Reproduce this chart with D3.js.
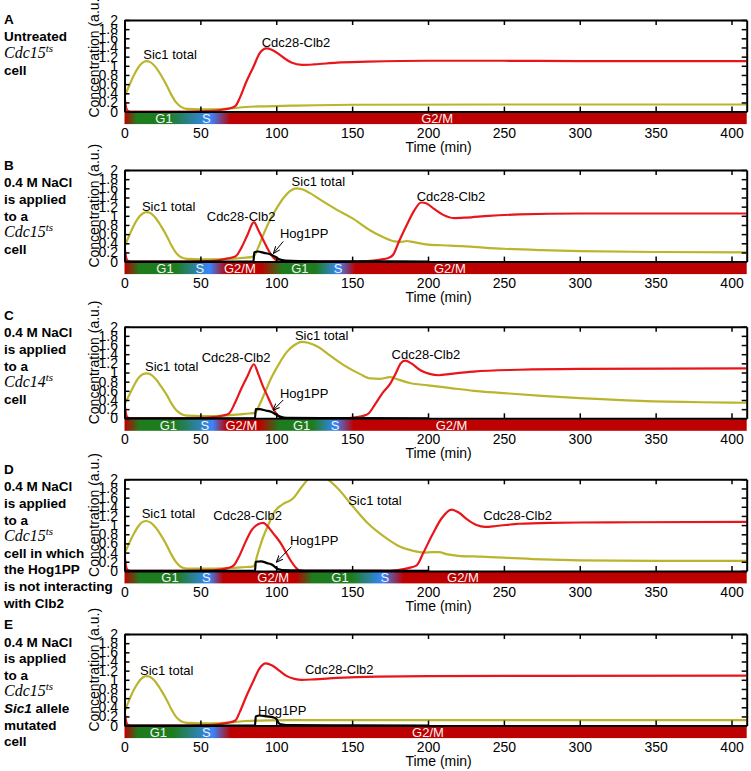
<!DOCTYPE html>
<html>
<head>
<meta charset="utf-8">
<script src="https://cdnjs.cloudflare.com/ajax/libs/d3/7.8.5/d3.min.js"></script>
<style>
  body { margin: 0; background: #fff; }
  text { font-family: "Liberation Sans", Arial, Helvetica, sans-serif; }
</style>
</head>
<body>
<div id="chart"></div>
<script>
// ticks
const timeTicks = [0, 50, 100, 150, 200, 250, 300, 350, 400];
const concTicks = [0, 0.2, 0.4, 0.6, 0.8, 1, 1.2, 1.4, 1.6, 1.8, 2];
const concLabels = ['0', '0.2', '0.4', '0.6', '0.8', '1', '1.2', '1.4', '1.6', '1.8', '2'];

const phaseColors = { G1: '#1e7c1e', S: '#3686ff', M: '#bd0000' };

// ---- A : untreated cdc15ts
const sic1A = [[0,0.33],[3,0.56],[6,0.78],[9,0.96],[12,1.07],[14.6,1.1],[17,1.08],[21,0.95],[24,0.8],[28,0.56],[31,0.36],[34,0.2],[37,0.11],[41,0.06],[50,0.05],[60,0.05],[70,0.07],[80,0.1],[90,0.115],[110,0.13],[150,0.15],[250,0.155],[410,0.155]];
const clb2A = [[0,0.33],[1,0.1],[2,0.02],[4,0],[40,0],[55,0.01],[62,0.03],[68,0.06],[73,0.12],[76,0.3],[80,0.63],[85,0.98],[89,1.27],[93.5,1.38],[97,1.35],[102,1.25],[106,1.15],[110,1.07],[117,1.02],[125,1.03],[140,1.07],[160,1.09],[200,1.11],[250,1.11],[300,1.1],[410,1.1]];
const phasesA = [[0,'M'],[8,'G1'],[28,'G1'],[57,'S'],[70,'M']];
const phaseLabelsA = [[26,'G1'],[54,'S'],[206,'G2/M']];
const notesA = [[12.4,1.15,'Sic1 total'],[90.4,1.41,'Cdc28-Clb2']];

// ---- B : NaCl, cdc15ts
const sic1B = [[0,0.33],[3,0.56],[6,0.78],[9,0.95],[12,1.05],[14.6,1.08],[17,1.06],[21,0.93],[24,0.78],[28,0.55],[31,0.35],[34,0.19],[37,0.1],[41,0.06],[50,0.05],[60,0.05],[70,0.06],[78,0.08],[85,0.11],[88,0.3],[91,0.55],[95,0.85],[100,1.15],[105,1.4],[109,1.54],[113,1.6],[117,1.58],[122,1.5],[130,1.33],[140,1.13],[150,0.95],[162,0.68],[170,0.54],[178,0.44],[182,0.43],[186,0.45],[190,0.43],[200,0.37],[215,0.35],[230,0.32],[250,0.28],[275,0.25],[300,0.23],[350,0.21],[410,0.2]];
const clb2B = [[0,0.33],[1,0.1],[2,0.02],[4,0],[40,0],[55,0.01],[62,0.03],[68,0.07],[73,0.11],[77,0.3],[81,0.58],[85.3,0.86],[88,0.7],[91,0.5],[94,0.3],[97,0.13],[100,0.03],[103,0],[150,0],[160,0.01],[168,0.04],[174,0.08],[177,0.15],[181,0.45],[186,0.8],[191,1.12],[195.5,1.29],[199,1.27],[204,1.15],[210,1.02],[217,0.95],[225,0.96],[240,1.0],[260,1.03],[300,1.05],[410,1.05]];
const hogB = [[0,0],[85,0],[85.5,0.2],[88,0.22],[92,0.19],[96,0.16],[99,0.11],[102,0.05],[106,0.02],[115,0.01],[160,0.005],[200,0]];
const phasesB = [[0,'M'],[10,'G1'],[34,'G1'],[56,'S'],[67,'M'],[90,'M'],[104,'G1'],[126,'G1'],[141,'S'],[152,'M']];
const phaseLabelsB = [[26.7,'G1'],[49.7,'S'],[76,'G2/M'],[115.6,'G1'],[140.8,'S'],[214.4,'G2/M']];
const notesB = [[11.5,1.11,'Sic1 total'],[54.2,0.89,'Cdc28-Clb2'],[110.1,1.65,'Sic1 total'],[102.4,0.52,'Hog1PP'],[192.5,1.33,'Cdc28-Clb2']];
const arrowB = [[104.6,0.44],[98.4,0.19]];

// ---- C : NaCl, cdc14ts
const sic1C = [[0,0.31],[3,0.5],[6,0.7],[9,0.87],[12,0.96],[14.6,0.98],[17,0.96],[21,0.84],[24,0.7],[28,0.5],[31,0.32],[34,0.18],[37,0.1],[41,0.06],[50,0.05],[60,0.05],[70,0.07],[80,0.1],[86,0.12],[89,0.3],[93,0.6],[97,0.9],[102,1.2],[107,1.45],[112,1.6],[116.7,1.67],[121,1.65],[128,1.55],[135,1.38],[145,1.15],[155,0.97],[162,0.87],[168,0.86],[175,0.9],[180,0.85],[188,0.77],[200,0.72],[215,0.66],[230,0.6],[250,0.55],[275,0.49],[300,0.44],[340,0.38],[380,0.35],[410,0.34]];
const clb2C = [[0,0.33],[1,0.1],[2,0.02],[4,0],[40,0],[52,0.01],[60,0.03],[65,0.06],[69,0.11],[73,0.35],[77,0.65],[81,0.92],[85.3,1.18],[88,0.98],[91,0.72],[94,0.5],[97,0.28],[100,0.1],[103,0.02],[106,0],[145,0],[152,0.02],[157,0.05],[161,0.11],[165,0.3],[170,0.55],[175,0.75],[179,1.0],[182,1.2],[185,1.26],[189,1.2],[195,1.05],[201,0.97],[207,0.94],[215,0.97],[230,1.02],[260,1.06],[300,1.08],[410,1.09]];
const hogC = [[0,0],[86,0],[86.5,0.2],[89,0.2],[93,0.17],[97,0.14],[100,0.08],[103,0.03],[107,0.01],[150,0.005],[200,0]];
const phasesC = [[0,'M'],[10,'G1'],[33,'G1'],[58,'S'],[67,'M'],[89,'M'],[102,'G1'],[124,'G1'],[139,'S'],[151,'M']];
const phaseLabelsC = [[28.9,'G1'],[53,'S'],[77,'G2/M'],[116.7,'G1'],[138.7,'S'],[215.5,'G2/M']];
const notesC = [[13.5,1.03,'Sic1 total'],[50.9,1.23,'Cdc28-Clb2'],[112.3,1.7,'Sic1 total'],[102.4,0.44,'Hog1PP'],[176,1.3,'Cdc28-Clb2']];
const arrowC = [[104.6,0.4],[98,0.18]];

// ---- D : NaCl, cdc15ts, Hog1PP not binding Clb2
const sic1D = [[0,0.38],[3,0.6],[6,0.8],[9,0.97],[12,1.07],[14.2,1.09],[17,1.06],[21,0.93],[24,0.78],[28,0.55],[31,0.35],[34,0.19],[37,0.09],[41,0.05],[50,0.05],[60,0.05],[70,0.06],[78,0.08],[85,0.1],[88,0.4],[91.4,0.74],[95,1.02],[98,1.25],[104,1.45],[111,1.58],[116,1.8],[121,2.0],[127,2.12],[134,2.0],[140,1.82],[150.7,1.4],[160,1.05],[172.7,0.71],[182,0.52],[190,0.44],[197,0.4],[203,0.41],[207,0.41],[213,0.36],[220,0.33],[235,0.31],[250,0.29],[275,0.25],[300,0.23],[350,0.22],[410,0.22]];
const clb2D = [[0,0.38],[1,0.1],[2,0.02],[4,0],[40,0],[55,0.01],[63,0.03],[68,0.06],[72,0.12],[76,0.35],[80,0.65],[84,0.9],[88,1.02],[91.4,1.05],[95,0.95],[98,0.82],[100,0.74],[103,0.6],[106.8,0.38],[110,0.2],[113,0.07],[115.6,0],[170,0],[180,0.02],[187,0.06],[192.5,0.12],[197,0.4],[203,0.8],[209,1.15],[215.5,1.34],[220,1.28],[226,1.12],[232,1.0],[237.5,0.96],[245,0.98],[260,1.03],[280,1.05],[320,1.06],[410,1.07]];
const hogD = [[0,0],[86,0],[86.5,0.2],[90,0.21],[94,0.17],[97,0.14],[99,0.09],[101,0.04],[104,0.02],[115,0.01],[150,0.005],[200,0]];
const phasesD = [[0,'M'],[10,'G1'],[34,'G1'],[56,'S'],[65,'M'],[113,'M'],[124,'G1'],[150,'G1'],[170,'S'],[184,'M']];
const phaseLabelsD = [[30,'G1'],[54,'S'],[98,'G2/M'],[142,'G1'],[171.6,'S'],[223,'G2/M']];
const notesD = [[11.3,1.15,'Sic1 total'],[58.5,1.12,'Cdc28-Clb2'],[147.4,1.43,'Sic1 total'],[109,0.57,'Hog1PP'],[236.4,1.12,'Cdc28-Clb2']];
const arrowD = [[110,0.53],[100.3,0.2]];

// ---- E : NaCl, cdc15ts, Sic1 mutated
const sic1E = [[0,0.3],[3,0.55],[6,0.77],[9,0.94],[12,1.05],[14.6,1.08],[17,1.06],[21,0.93],[24,0.78],[28,0.55],[31,0.35],[34,0.19],[37,0.1],[41,0.06],[50,0.05],[60,0.05],[70,0.07],[80,0.1],[90,0.11],[110,0.12],[150,0.12],[410,0.12]];
const clb2E = [[0,0.33],[1,0.1],[2,0.02],[4,0],[40,0],[55,0.01],[62,0.03],[68,0.06],[73,0.11],[76,0.3],[80,0.62],[85,0.98],[89,1.25],[93,1.36],[97,1.32],[102,1.2],[107,1.08],[112,1.02],[117,1.0],[125,1.01],[140,1.04],[166,1.07],[200,1.08],[410,1.09]];
const hogE = [[0,0],[86,0],[86.5,0.2],[89,0.22],[94,0.2],[98,0.18],[100,0.15],[101.5,0.06],[103,0.03],[110,0.01],[150,0.005],[200,0]];
const phasesE = [[0,'M'],[9,'G1'],[32,'G1'],[58,'S'],[70,'M']];
const phaseLabelsE = [[22.3,'G1'],[54,'S'],[200,'G2/M']];
const notesE = [[10.2,1.1,'Sic1 total'],[118.9,1.13,'Cdc28-Clb2'],[88,0.24,'Hog1PP']];

// panel captions: segments [text, style]
const titleA = [[['A','b']],[['Untreated','b']],[['Cdc15','m'],['ts','sup']],[['cell','b']]];
const titleB = [[['B','b']],[['0.4 M NaCl','b']],[['is applied','b']],[['to a','b']],[['Cdc15','m'],['ts','sup']],[['cell','b']]];
const titleC = [[['C','b']],[['0.4 M NaCl','b']],[['is applied','b']],[['to a','b']],[['Cdc14','m'],['ts','sup']],[['cell','b']]];
const titleD = [[['D','b']],[['0.4 M NaCl','b']],[['is applied','b']],[['to a','b']],[['Cdc15','m'],['ts','sup']],[['cell in which','b']],[['the Hog1PP','b']],[['is not interacting','b']],[['with Clb2','b']]];
const titleE = [[['E','b']],[['0.4 M NaCl','b']],[['is applied','b']],[['to a','b']],[['Cdc15','m'],['ts','sup']],[['Sic1','bi'],[' allele','b']],[['mutated','b']],[['cell','b']]];

const panels = [
  { title: titleA, sic1: sic1A, clb2: clb2A, hog: null, phases: phasesA, phaseLabels: phaseLabelsA, notes: notesA, arrow: null },
  { title: titleB, sic1: sic1B, clb2: clb2B, hog: hogB, phases: phasesB, phaseLabels: phaseLabelsB, notes: notesB, arrow: arrowB },
  { title: titleC, sic1: sic1C, clb2: clb2C, hog: hogC, phases: phasesC, phaseLabels: phaseLabelsC, notes: notesC, arrow: arrowC },
  { title: titleD, sic1: sic1D, clb2: clb2D, hog: hogD, phases: phasesD, phaseLabels: phaseLabelsD, notes: notesD, arrow: arrowD },
  { title: titleE, sic1: sic1E, clb2: clb2E, hog: hogE, phases: phasesE, phaseLabels: phaseLabelsE, notes: notesE, arrow: null }
];

// layout
const layout = [
  { top: 20, titleY: 24 },
  { top: 170, titleY: 170 },
  { top: 326.7, titleY: 320 },
  { top: 479.3, titleY: 474 },
  { top: 634, titleY: 629.3 }
];
const H = 91.6, barH = 11.5;
const tMax = 410;

const x = d3.scaleLinear().domain([0, tMax]).range([124.5, 746.7]);

const svg = d3.select('#chart').append('svg')
  .attr('width', 751)
  .attr('height', 771);
const defs = svg.append('defs');

defs.append('marker')
  .attr('id', 'arrowhead')
  .attr('viewBox', '0 0 10 10')
  .attr('refX', 9).attr('refY', 5)
  .attr('markerWidth', 7).attr('markerHeight', 7)
  .attr('orient', 'auto')
  .append('path')
  .attr('d', 'M0,1 L10,5 L0,9')
  .attr('fill', 'none')
  .attr('stroke', '#000')
  .attr('stroke-width', 1.4);

const segStyle = {
  b: { family: '"Liberation Sans", Arial, sans-serif', weight: 'bold', style: 'normal', size: 13.5, dy: 0 },
  bi: { family: '"Liberation Sans", Arial, sans-serif', weight: 'bold', style: 'italic', size: 13.5, dy: 0 },
  m: { family: '"Liberation Serif", "Times New Roman", serif', weight: 'normal', style: 'italic', size: 16, dy: 0 },
  sup: { family: '"Liberation Serif", "Times New Roman", serif', weight: 'normal', style: 'italic', size: 11, dy: -6 }
};

panels.forEach((p, i) => {
  const top = layout[i].top, y0 = top + H;
  const y = d3.scaleLinear().domain([0, 2]).range([y0, top]);
  const g = svg.append('g');

  // caption on the left
  p.title.forEach((line, li) => {
    const by = layout[i].titleY + (li === 0 ? 0 : 17.3 + (li - 1) * 16.6);
    const t = g.append('text').attr('x', 4).attr('y', by);
    let prevDy = 0;
    line.forEach(seg => {
      const s = segStyle[seg[1]];
      t.append('tspan')
        .attr('dy', s.dy - prevDy)
        .style('font-family', s.family)
        .style('font-weight', s.weight)
        .style('font-style', s.style)
        .style('font-size', s.size + 'px')
        .text(seg[0]);
      prevDy = s.dy;
    });
  });

  // phase bar
  const grad = defs.append('linearGradient')
    .attr('id', 'phase' + i)
    .attr('gradientUnits', 'userSpaceOnUse')
    .attr('x1', x(0)).attr('x2', x(tMax))
    .attr('y1', 0).attr('y2', 0);
  grad.selectAll('stop')
    .data(p.phases)
    .join('stop')
    .attr('offset', d => d[0] / tMax)
    .attr('stop-color', d => phaseColors[d[1]]);

  g.append('rect')
    .attr('x', x(0))
    .attr('y', y0 + 1)
    .attr('width', x(tMax) - x(0))
    .attr('height', barH)
    .attr('fill', 'url(#phase' + i + ')');

  g.selectAll('.phase-label')
    .data(p.phaseLabels)
    .join('text')
    .attr('class', 'phase-label')
    .attr('x', d => x(d[0]))
    .attr('y', y0 + 1 + barH / 2 + 4.6)
    .attr('text-anchor', 'middle')
    .style('font-size', '13px')
    .style('fill', '#f4f4f4')
    .text(d => d[1]);

  // curves
  defs.append('clipPath').attr('id', 'clip' + i)
    .append('rect')
    .attr('x', x(0)).attr('y', top)
    .attr('width', x(tMax) - x(0)).attr('height', H);

  const line = d3.line()
    .x(d => x(d[0]))
    .y(d => y(d[1]))
    .curve(d3.curveMonotoneX);

  const plot = g.append('g').attr('clip-path', 'url(#clip' + i + ')');
  const series = [[p.sic1, '#bab52c'], [p.clb2, '#e8161b'], [p.hog, '#000']];
  series.forEach(s => {
    if (!s[0]) return;
    plot.append('path')
      .datum(s[0])
      .attr('d', line)
      .attr('fill', 'none')
      .attr('stroke', s[1])
      .attr('stroke-width', 2.2)
      .attr('stroke-linejoin', 'round');
  });

  // annotations
  g.selectAll('.note')
    .data(p.notes)
    .join('text')
    .attr('class', 'note')
    .attr('x', d => x(d[0]))
    .attr('y', d => y(d[1]))
    .style('font-size', '13px')
    .text(d => d[2]);

  if (p.arrow) {
    g.append('line')
      .attr('x1', x(p.arrow[0][0])).attr('y1', y(p.arrow[0][1]))
      .attr('x2', x(p.arrow[1][0])).attr('y2', y(p.arrow[1][1]))
      .attr('stroke', '#000')
      .attr('stroke-width', 1)
      .attr('marker-end', 'url(#arrowhead)');
  }

  // axes (box with inward ticks)
  const styleAxis = sel => {
    sel.select('.domain').attr('stroke-width', 2).attr('stroke', '#000');
    sel.selectAll('.tick line').attr('stroke-width', 1.5).attr('stroke', '#000');
    sel.selectAll('.tick text').style('font-size', '14px').style('font-family', '"Liberation Sans", Arial, sans-serif').attr('fill', '#000');
  };

  g.append('g')
    .attr('transform', `translate(0,${y0})`)
    .call(d3.axisBottom(x).tickValues(timeTicks).tickSizeInner(-5).tickSizeOuter(0).tickPadding(16))
    .call(styleAxis);

  g.append('g')
    .attr('transform', `translate(0,${top})`)
    .call(d3.axisTop(x).tickValues(timeTicks).tickSizeInner(-5).tickSizeOuter(0).tickFormat(''))
    .call(styleAxis);

  g.append('g')
    .attr('transform', `translate(${x(0)},0)`)
    .call(d3.axisLeft(y).tickValues(concTicks).tickSizeInner(-5).tickSizeOuter(0).tickPadding(6.5)
      .tickFormat((d, k) => concLabels[k]))
    .call(styleAxis);

  g.append('g')
    .attr('transform', `translate(${x(tMax)},0)`)
    .call(d3.axisRight(y).tickValues(concTicks).tickSizeInner(-5).tickSizeOuter(0).tickFormat(''))
    .call(styleAxis);

  // axis titles
  g.append('text')
    .attr('x', (x(0) + x(tMax)) / 2 + 3)
    .attr('y', y0 + 40)
    .attr('text-anchor', 'middle')
    .style('font-size', '14px')
    .text('Time (min)');

  g.append('text')
    .attr('transform', `translate(99,${y0 + 6}) rotate(-90)`)
    .attr('text-anchor', 'start')
    .style('font-size', '14px')
    .text('Concentration (a.u.)');
});
</script>
</body>
</html>
